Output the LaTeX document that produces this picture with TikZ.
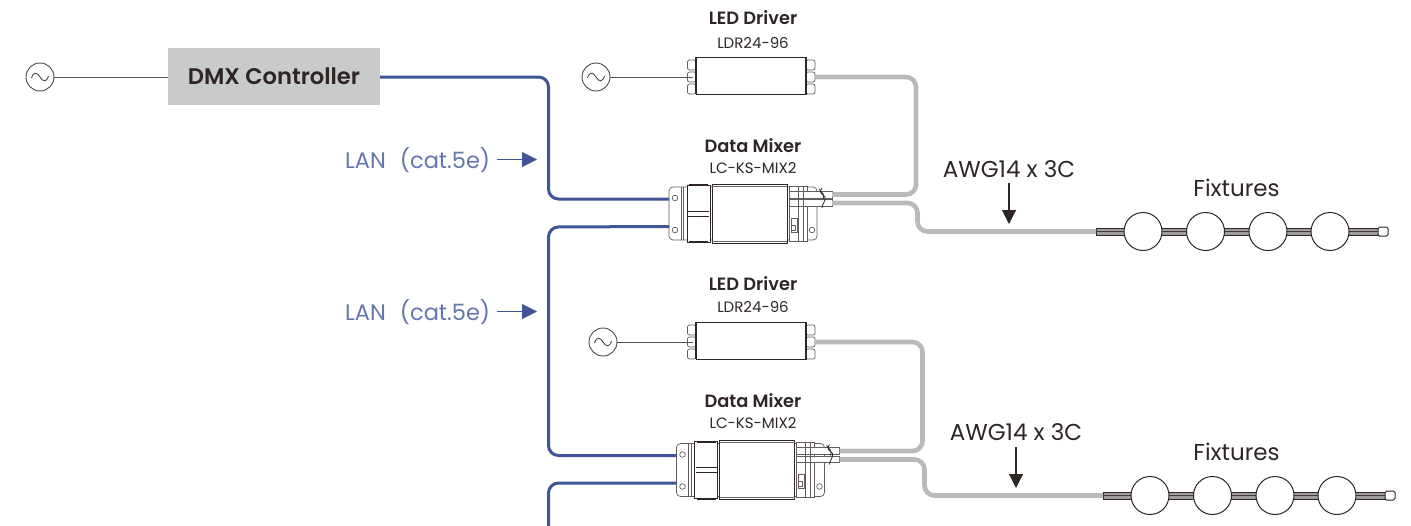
\documentclass[tikz,border=0pt]{standalone}
\usepackage{fontspec}
\setmainfont{Poppins}
\newfontfamily\semifont{Poppins SemiBold}
\usetikzlibrary{arrows.meta}
\definecolor{lanblue}{HTML}{3F5595}
\definecolor{lantext}{HTML}{6476AB}
\definecolor{cablegray}{HTML}{B9BABA}
\definecolor{boxgray}{HTML}{C9CACA}
\definecolor{ink}{HTML}{2E2525}
\tikzset{
  x=1pt,y=-1pt,
  lanline/.style={draw=lanblue,line width=3pt,rounded corners=10pt},
  powerline/.style={draw=cablegray,line width=4.6pt,rounded corners=10pt},
  mains/.style={draw=ink!80,line width=1pt},
  acsource/.style={circle,draw=ink!85,line width=0.9pt,minimum size=28pt,inner sep=0pt},
  part/.style={draw=ink,line width=1pt,fill=white},
  thin part/.style={draw=ink!75,line width=.7pt,fill=white},
  titletext/.style={font=\fontsize{17.8}{20}\semifont,text=ink,inner sep=0pt},
  modeltext/.style={font=\fontsize{15}{17}\selectfont,text=ink,inner sep=0pt},
  lantxt/.style={font=\fontsize{22.5}{24}\selectfont,text=lantext,inner sep=0pt},
  cabletext/.style={font=\fontsize{23}{25}\selectfont,text=ink,inner sep=0pt},
  lanarrow/.style={draw=lanblue,line width=1pt,-{Triangle[length=15pt,width=15pt]}},
  downarrow/.style={draw=ink,line width=1.2pt,-{Triangle[length=14pt,width=14pt]}},
  lamp/.style={circle,draw=ink,line width=1pt,fill=white,minimum size=38pt,inner sep=0pt},
}
% AC source: name, x, y
\newcommand{\acsrc}[3]{%
  \node[acsource] (#1) at (#2,#3) {};
  \begin{scope}[shift={(#2,#3)}]
    \draw[ink!85,line width=.9pt] (-8.5,1) .. controls (-6.5,-5.5) and (-3,-5) .. (0,0) .. controls (3,5) and (6.5,5.5) .. (8.5,-1);
  \end{scope}
}
% driver: name, x, y (centre of body)
\newcommand{\driver}[3]{%
  \begin{scope}[shift={(#2,#3)}]
    \foreach \yy in {-12,0,12}{
      \draw[thin part,rounded corners=2pt] (-63.5,\yy+1.5-5) -- (-55,\yy+1.5-5) -- (-55,\yy+1.5+5) -- (-63.5,\yy+1.5+5) -- cycle;
      \draw[thin part,rounded corners=2pt] (64,\yy+1.5-5) -- (55,\yy+1.5-5) -- (55,\yy+1.5+5) -- (64,\yy+1.5+5) -- cycle;
    }
    \node[part,minimum width=110pt,minimum height=37pt,inner sep=0pt] (#1) at (0,0) {};
    \draw[ink,line width=1.8pt] (-55,-18.5) -- (-55,18.5) (55,-18.5) -- (55,18.5);
    \coordinate (#1-in) at (-58,1.5);
    \coordinate (#1-out) at (64,1.5);
  \end{scope}
}
% mixer: name, x, y (shift relative to the first one)
\newcommand{\mixer}[3]{%
  \begin{scope}[shift={(#2,#3)}]
    \draw[thin part,rounded corners=4pt] (669,187) rectangle (817,240);
    \draw[thin part] (681,187) -- (681,240) (683.5,187) -- (683.5,240);
    \draw[ink,line width=1pt,fill=white] (687,185) rectangle (710,242);
    \draw[ink,line width=2pt] (689,185) -- (708,185) (689,242) -- (708,242);
    \draw[ink,line width=1pt] (688,211) -- (709,211) (688,216) -- (709,216);
    \draw[thin part] (789,186) rectangle (807,241);
    \draw[thin part] (789,191) rectangle (832,198);
    \draw[thin part] (789,199.5) rectangle (832,206);
    \draw[ink!75,line width=.7pt] (798,186) -- (798,241) (803,186) -- (803,241);
    \draw[part] (712,184) rectangle (787,243);
    \draw[ink!70,line width=.6pt] (712,186) -- (787,186) (712,241) -- (787,241);
    \draw[thin part] (791,218) rectangle (797,232);
    \draw[thin part] (791,225) rectangle (795,230);
    \draw[thin part] (675,198) circle (2.8);
    \draw[thin part] (675,230) circle (2.8);
    \draw[thin part] (812,230) circle (2.8);
    \draw[ink,line width=.8pt] (822,188) .. controls (818,192) and (822,194) .. (825,197) .. controls (826,201) and (822,204) .. (822,208);
    \draw[ink,line width=.8pt] (819,189) .. controls (822,193) and (825,194) .. (823,199);
    \coordinate (#1-a) at (669,199);
    \coordinate (#1-b) at (669,226.5);
    \coordinate (#1-c) at (832,194.5);
    \coordinate (#1-d) at (832,203);
    \node[inner sep=0pt,minimum size=1pt] (#1) at (743,213) {};
  \end{scope}
}
% fixture strip: prefix, x, y (shift)
\newcommand{\strip}[3]{%
  \begin{scope}[shift={(#2,#3)}]
    \draw[ink,line width=1pt,fill=ink!45] (1096,228) rectangle (1378,235);
    \draw[ink!90,line width=.6pt] (1096,231.5) -- (1378,231.5);
    \node[lamp] (#1a) at (1143,231.5) {};
    \node[lamp] (#1b) at (1205.5,231.5) {};
    \node[lamp] (#1c) at (1268,231.5) {};
    \node[lamp] (#1d) at (1330,231.5) {};
    \draw[ink,line width=1pt,fill=white,rounded corners=1.5pt] (1378,227) rectangle (1388,236);
    \coordinate (#1in) at (1096,231.5);
  \end{scope}
}
\begin{document}
\begin{tikzpicture}
\useasboundingbox (0,0) rectangle (1411,525);

\coordinate (off) at (548.5,530);
\coordinate (rail1) at (548.5,77);
\coordinate (rail2) at (548.5,227);
\coordinate (rail3) at (548.5,483);

\node[fill=boxgray,minimum width=212pt,minimum height=57pt,inner sep=0pt,font=\fontsize{22.6}{25}\semifont,text=ink] (dmx) at (274,76.5) {DMX Controller};
\acsrc{ac0}{40}{77}
\acsrc{ac1}{596}{77}
\acsrc{ac2}{603}{342}
\draw[mains] (ac0) -- (dmx.west |- ac0);

\driver{drv1}{751}{75.5}
\driver{drv2}{751}{340.5}
\mixer{mix1}{0}{0}
\mixer{mix2}{7.5}{256.5}
\strip{fa}{0}{0}
\strip{fb}{7}{264}

\draw[mains] (ac1) -- (drv1-in);
\draw[mains] (ac2) -- (drv2-in);

\draw[lanline] (dmx.east |- rail1) -- (rail1) -- (rail1 |- mix1-a) -- (mix1-a);
\draw[lanline] (mix1-b) -- (rail2) -- (rail2 |- mix2-a) -- (mix2-a);
\draw[lanline] (mix2-b) -- (rail3) -- (off);

\coordinate (c1) at (916,77);
\coordinate (c2) at (917.5,203);
\coordinate (c3) at (917.5,231.5);
\coordinate (c4) at (922.5,342);
\coordinate (c5) at (924.5,459.5);
\coordinate (c6) at (924.5,495.5);
\draw[powerline] (drv1-out) -- (c1) -- (c1 |- mix1-c) -- (mix1-c);
\draw[powerline] (mix1-d) -- (c2) -- (c3) -- (fain);
\draw[powerline] (drv2-out) -- (c4) -- (c4 |- mix2-c) -- (mix2-c);
\draw[powerline] (mix2-d) -- (c5) -- (c6) -- (fbin);

% labels
\node[titletext] (t1) at (753,18) {LED Driver};
\node[modeltext] (m1) at (753,42.5) {LDR24-96};
\node[titletext] (t2) at (753,146) {Data Mixer};
\node[modeltext] (m2) at (753,168.5) {LC-KS-MIX2};
\node[titletext] (t3) at (753,283.5) {LED Driver};
\node[modeltext] (m3) at (753,307) {LDR24-96};
\node[titletext] (t4) at (753,400.5) {Data Mixer};
\node[modeltext] (m4) at (753,423.5) {LC-KS-MIX2};

\node[lantxt,anchor=west] (l1) at (345,160) {LAN\hspace{14pt}(cat.5e)};
\node[lantxt,anchor=west] (l2) at (345,312) {LAN\hspace{14pt}(cat.5e)};
\coordinate (l1s) at (497,159.5);
\coordinate (l1e) at (537,159.5);
\coordinate (l2s) at (497,311.5);
\coordinate (l2e) at (537,311.5);
\draw[lanarrow] (l1s) -- (l1e);
\draw[lanarrow] (l2s) -- (l2e);

\node[cabletext] (a1) at (1009,169) {AWG14 x 3C};
\node[cabletext] (a2) at (1016,432) {AWG14 x 3C};
\coordinate (a1s) at (1009,183);
\coordinate (a1e) at (1009,224);
\coordinate (a2s) at (1016,447);
\coordinate (a2e) at (1016,488);
\draw[downarrow] (a1s) -- (a1e);
\draw[downarrow] (a2s) -- (a2e);

\node[cabletext] (f1) at (1236.5,187.5) {Fixtures};
\node[cabletext] (f2) at (1236.5,452) {Fixtures};
\end{tikzpicture}
\end{document}
